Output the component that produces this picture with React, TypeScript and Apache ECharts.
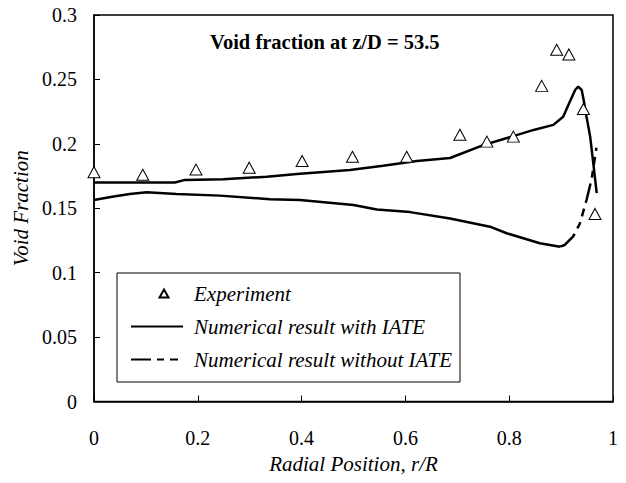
import React, { useEffect, useRef } from "react";
import * as echarts from "echarts";

const FONT = "Liberation Serif";

// Experiment (triangles)
const expX = [0, 0.094, 0.1965, 0.299, 0.401, 0.498, 0.6025, 0.705, 0.757, 0.808, 0.8626, 0.8915, 0.915, 0.943, 0.9653];
const expY = [0.178, 0.176, 0.180, 0.1815, 0.1867, 0.190, 0.190, 0.207, 0.2017, 0.2056, 0.245, 0.273, 0.2694, 0.2271, 0.1456];

// Numerical result with IATE
const withX = [0, 0.156, 0.175, 0.249, 0.333, 0.391, 0.493, 0.557, 0.622, 0.686, 0.75, 0.808, 0.847, 0.885, 0.904, 0.917, 0.927, 0.933, 0.9397, 0.944, 0.949, 0.956, 0.962, 0.9686];
const withY = [0.170, 0.170, 0.172, 0.1725, 0.1745, 0.1766, 0.1797, 0.183, 0.1867, 0.189, 0.199, 0.206, 0.2108, 0.2147, 0.221, 0.2328, 0.2418, 0.2444, 0.2418, 0.2328, 0.221, 0.2056, 0.185, 0.1617];

// Numerical result without IATE (core region, drawn continuous)
const woCoreX = [0, 0.035, 0.069, 0.1015, 0.159, 0.243, 0.339, 0.397, 0.5, 0.545, 0.609, 0.686, 0.763, 0.795, 0.859, 0.898];
const woCoreY = [0.1564, 0.159, 0.161, 0.1624, 0.161, 0.1598, 0.157, 0.1564, 0.1526, 0.149, 0.147, 0.142, 0.1357, 0.1306, 0.1228, 0.1202];
// Numerical result without IATE (near-wall region, dashes visible)
const woWallX = [0.898, 0.907, 0.923, 0.936, 0.949, 0.959, 0.968];
const woWallY = [0.1202, 0.1215, 0.128, 0.138, 0.1564, 0.173, 0.197];

const xTicks = { min: 0, max: 1, interval: 0.2 };
const yTicks = { min: 0, max: 0.3, interval: 0.05 };

const zip = (xs: number[], ys: number[]) => xs.map((x, i) => [x, ys[i]]);

export default function App() {
  const ref = useRef<HTMLDivElement>(null);
  useEffect(() => {
    if (!ref.current) return;
    const chart = echarts.init(ref.current, undefined, { renderer: "svg" });
    const dash = [20, 6, 7, 6, 8, 6];
    chart.setOption({
      animation: false,
      backgroundColor: "#fff",
      textStyle: { fontFamily: FONT },
      title: {
        text: "Void fraction at z/D = 53.5",
        left: 210,
        top: 31,
        padding: 0,
        textStyle: { fontFamily: FONT, fontWeight: "bold", fontSize: 20.5, color: "#000" },
      },
      grid: {
        left: 94,
        top: 15,
        right: 13,
        bottom: 81.5,
        show: true,
        borderColor: "#000",
        borderWidth: 1.5,
        backgroundColor: "transparent",
      },
      legend: {
        orient: "vertical",
        left: 117,
        top: 273,
        data: [
          { name: "Experiment", icon: "path://M0,0 M52,11 M33,1.5 L37.5,9.5 L28.5,9.5 Z" },
          { name: "Numerical result with IATE", itemStyle: { opacity: 0 } },
          { name: "Numerical result without IATE", itemStyle: { opacity: 0 } },
        ],
        itemWidth: 52,
        itemHeight: 11,
        itemGap: 12,
        borderColor: "#000",
        borderWidth: 1,
        padding: [10, 8, 12, 13],
        backgroundColor: "#fff",
        textStyle: { fontFamily: FONT, fontStyle: "italic", fontSize: 21, color: "#000", lineHeight: 21, padding: [0, 0, 0, 6] },
      },
      xAxis: {
        type: "value",
        ...xTicks,
        name: "Radial Position, r/R",
        nameLocation: "middle",
        nameGap: 52,
        nameTextStyle: { fontFamily: FONT, fontStyle: "italic", fontSize: 21, color: "#000" },
        axisLine: { onZero: false, lineStyle: { color: "#000", width: 1.5 } },
        axisTick: { inside: true, length: 6, lineStyle: { color: "#000", width: 1 } },
        axisLabel: { margin: 26, fontFamily: FONT, fontSize: 20, color: "#000" },
        splitLine: { show: false },
      },
      yAxis: {
        type: "value",
        ...yTicks,
        name: "Void Fraction",
        nameLocation: "middle",
        nameRotate: 90,
        nameGap: 53,
        nameTextStyle: { fontFamily: FONT, fontStyle: "italic", fontSize: 21, color: "#000" },
        axisLine: { onZero: false, lineStyle: { color: "#000", width: 1.5 } },
        axisTick: { inside: true, length: 6, lineStyle: { color: "#000", width: 1 } },
        axisLabel: { margin: 17, fontFamily: FONT, fontSize: 20, color: "#000" },
        splitLine: { show: false },
      },
      series: [
        {
          name: "Numerical result without IATE (core)",
          type: "line",
          data: zip(woCoreX, woCoreY),
          symbol: "none",
          itemStyle: { color: "#000" },
          lineStyle: { color: "#000", width: 2.5 },
          z: 2,
        },
        {
          name: "Numerical result without IATE",
          type: "line",
          data: zip(woWallX, woWallY),
          symbol: "none",
          itemStyle: { color: "#000" },
          lineStyle: { color: "#000", width: 2.5, type: dash },
          z: 2,
        },
        {
          name: "Numerical result with IATE",
          type: "line",
          data: zip(withX, withY),
          symbol: "none",
          itemStyle: { color: "#000" },
          lineStyle: { color: "#000", width: 2.5 },
          z: 2,
        },
        {
          name: "Experiment",
          type: "scatter",
          data: zip(expX, expY),
          symbol: "triangle",
          symbolSize: [12, 11],
          clip: false,
          itemStyle: { color: "#fff", borderColor: "#000", borderWidth: 1, opacity: 1 },
          z: 5,
        },
      ],
    });
    return () => chart.dispose();
  }, []);
  return <div ref={ref} style={{ width: 626, height: 483, position: "absolute", left: 0, top: 0 }} />;
}
